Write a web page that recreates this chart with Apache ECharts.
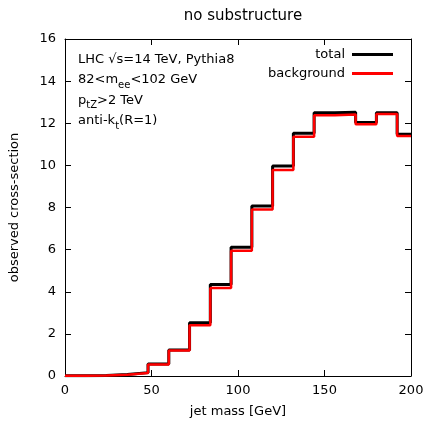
<!DOCTYPE html>
<html>
<head>
<meta charset="utf-8">
<script src="https://cdn.jsdelivr.net/npm/echarts@6/dist/echarts.min.js"></script>
<style>
  html, body { margin: 0; padding: 0; background: #fff; }
  #chart { width: 427px; height: 424px; }
</style>
</head>
<body>
<div id="chart"></div>
<script>
// bin left edges (GeV), width 12; last bin is cut at the axis end
const binEdges = [0, 12, 24, 36, 48, 60, 72, 84, 96, 108, 120, 132, 144, 156, 168, 180, 192];
const xEnd = 200;
const totalValues = [0.01, 0.02, 0.07, 0.16, 0.57, 1.23, 2.53, 4.35, 6.11, 8.07, 9.97, 11.52, 12.50, 12.52, 12.04, 12.50, 11.48];
const backgroundValues = [0.01, 0.02, 0.06, 0.14, 0.55, 1.21, 2.41, 4.18, 5.95, 7.91, 9.78, 11.36, 12.38, 12.41, 11.95, 12.44, 11.40];
const xTicks = [0, 50, 100, 150, 200];
const yTicks = [0, 2, 4, 6, 8, 10, 12, 14, 16];

const font = 'DejaVu Sans';

function stepData(vals) {
  const d = binEdges.map((x, i) => [x, vals[i]]);
  d.push([xEnd, vals[vals.length - 1]]);
  return d;
}

const chart = echarts.init(document.getElementById('chart'));

const tickStyle = { show: true, inside: true, length: 6, lineStyle: { color: '#000', width: 1 } };
const lineStyle = { show: true, onZero: false, lineStyle: { color: '#000', width: 1 } };

chart.setOption({
  animation: false,
  backgroundColor: '#fff',
  textStyle: { fontFamily: font },
  title: {
    text: 'no substructure',
    left: 238,
    textAlign: 'center',
    top: 4,
    textStyle: { fontFamily: font, fontSize: 15, fontWeight: 'normal', color: '#000' }
  },
  grid: { left: 65, right: 16, top: 39, bottom: 48 },
  legend: {
    orient: 'vertical',
    right: 29,
    top: 43,
    align: 'right',
    itemWidth: 41,
    itemHeight: 3,
    itemGap: 6,
    icon: 'rect',
    textStyle: { fontFamily: font, fontSize: 13, color: '#000', width: 84, align: 'right', padding: [0, 2, 0, 0] },
    data: ['total', 'background']
  },
  xAxis: [
    {
      type: 'value', min: 0, max: 200, interval: 50,
      name: 'jet mass [GeV]', nameLocation: 'middle', nameGap: 29,
      nameTextStyle: { fontFamily: font, fontSize: 13, color: '#000' },
      axisLine: lineStyle, axisTick: tickStyle,
      axisLabel: { color: '#000', fontSize: 13, margin: 8, fontFamily: font, customValues: xTicks },
      splitLine: { show: false }
    },
    {
      type: 'value', position: 'top', min: 0, max: 200, interval: 50,
      axisLine: lineStyle, axisTick: tickStyle, axisLabel: { show: false }, splitLine: { show: false }
    }
  ],
  yAxis: [
    {
      type: 'value', min: 0, max: 16, interval: 2,
      name: 'observed cross-section', nameLocation: 'middle', nameGap: 44,
      nameTextStyle: { fontFamily: font, fontSize: 13, color: '#000' },
      axisLine: lineStyle, axisTick: tickStyle,
      axisLabel: { color: '#000', fontSize: 13, margin: 9, fontFamily: font, customValues: yTicks },
      splitLine: { show: false }
    },
    {
      type: 'value', position: 'right', min: 0, max: 16, interval: 2,
      axisLine: lineStyle, axisTick: tickStyle, axisLabel: { show: false }, splitLine: { show: false }
    }
  ],
  series: [
    {
      name: 'total', type: 'line', step: 'end', symbol: 'none',
      data: stepData(totalValues),
      lineStyle: { color: '#000', width: 3 }, itemStyle: { color: '#000' }
    },
    {
      name: 'background', type: 'line', step: 'end', symbol: 'none',
      data: stepData(backgroundValues),
      lineStyle: { color: '#ff0000', width: 2.5 }, itemStyle: { color: '#ff0000' }
    }
  ],
  graphic: [
    {
      type: 'text', left: 78, top: 49,
      style: {
        text: 'LHC √s=14 TeV, Pythia8\n82<m{sub|ee}<102 GeV\np{sub|tZ}>2 TeV\nanti-k{sub|t}(R=1)',
        font: '13px "DejaVu Sans"',
        fill: '#000',
        lineHeight: 20.5,
        rich: {
          sub: { fontSize: 10, fontFamily: font, verticalAlign: 'bottom', lineHeight: 14, fill: '#000' }
        }
      }
    }
  ]
});
</script>
</body>
</html>
